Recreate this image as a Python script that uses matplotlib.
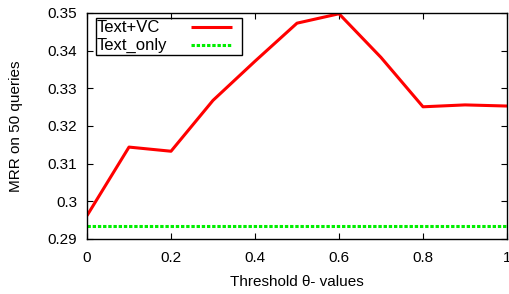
import matplotlib
matplotlib.use("Agg")
import matplotlib.pyplot as plt
from matplotlib.patches import Rectangle
from matplotlib.lines import Line2D

plt.rcParams['font.family'] = ['Liberation Sans', 'DejaVu Sans']

thresholds = [0.0, 0.1, 0.2, 0.3, 0.4, 0.5, 0.6, 0.7, 0.8, 0.9, 1.0]
text_vc = [0.2962, 0.3144, 0.3133, 0.3268, 0.3372, 0.3473, 0.3498, 0.3382, 0.3251, 0.3256, 0.3253]
text_only = [0.2935] * len(thresholds)
series_names = ['Text+VC', 'Text_only']
xticks = [0, 0.2, 0.4, 0.6, 0.8, 1]
xticklabels = ['0', '0.2', '0.4', '0.6', '0.8', '1']
yticks = [0.29, 0.30, 0.31, 0.32, 0.33, 0.34, 0.35]
yticklabels = ['0.29', '0.3', '0.31', '0.32', '0.33', '0.34', '0.35']

FS = 11
fig = plt.figure(figsize=(5.09, 2.94), dpi=100)
ax = fig.add_axes([87/509, 1-239/294, (507-87)/509, (239-13)/294])

red_style = dict(color='#ff0000', lw=2.2, solid_capstyle='butt')
green_style = dict(color='#00ee00', lw=2.2, ls=(0, (1.1, 0.6)))
ax.plot(thresholds, text_vc, **red_style)
ax.plot(thresholds, text_only, **green_style)

ax.set_xlim(0, 1)
ax.set_ylim(0.29, 0.35)
ax.set_xticks(xticks)
ax.set_xticklabels(xticklabels)
ax.set_yticks(yticks)
ax.set_yticklabels(yticklabels)
ax.tick_params(direction='in', top=True, right=True, length=4, width=0.8, labelsize=FS)
ax.tick_params(axis='x', pad=9)
ax.tick_params(axis='y', pad=7)
for s in ax.spines.values():
    s.set_linewidth(1.0)

ax.set_xlabel('Threshold θ- values', fontsize=FS)
ax.set_ylabel('MRR on 50 queries', fontsize=FS)
ax.xaxis.set_label_coords(0.5, (239-275)/226)
ax.yaxis.set_label_coords((23-87)/420, 0.5)

# gnuplot-style key (text left, sample right), in axes fraction
tr = ax.transAxes
ax.add_patch(Rectangle((9/420, 1-42/226), (242-96)/420, 37/226, transform=tr,
                       fill=False, ec='black', lw=1.0, zorder=5))
rows_y = [1-14/226, 1-32/226]
for name, yy, st in zip(series_names, rows_y, [red_style, green_style]):
    ax.text(10/420, yy, name, transform=tr, fontsize=FS + 1, va='center', ha='left', zorder=6)
    ax.add_line(Line2D([104/420, 145/420], [yy, yy], transform=tr, zorder=6, **st))

fig.savefig('out.png', dpi=100)
